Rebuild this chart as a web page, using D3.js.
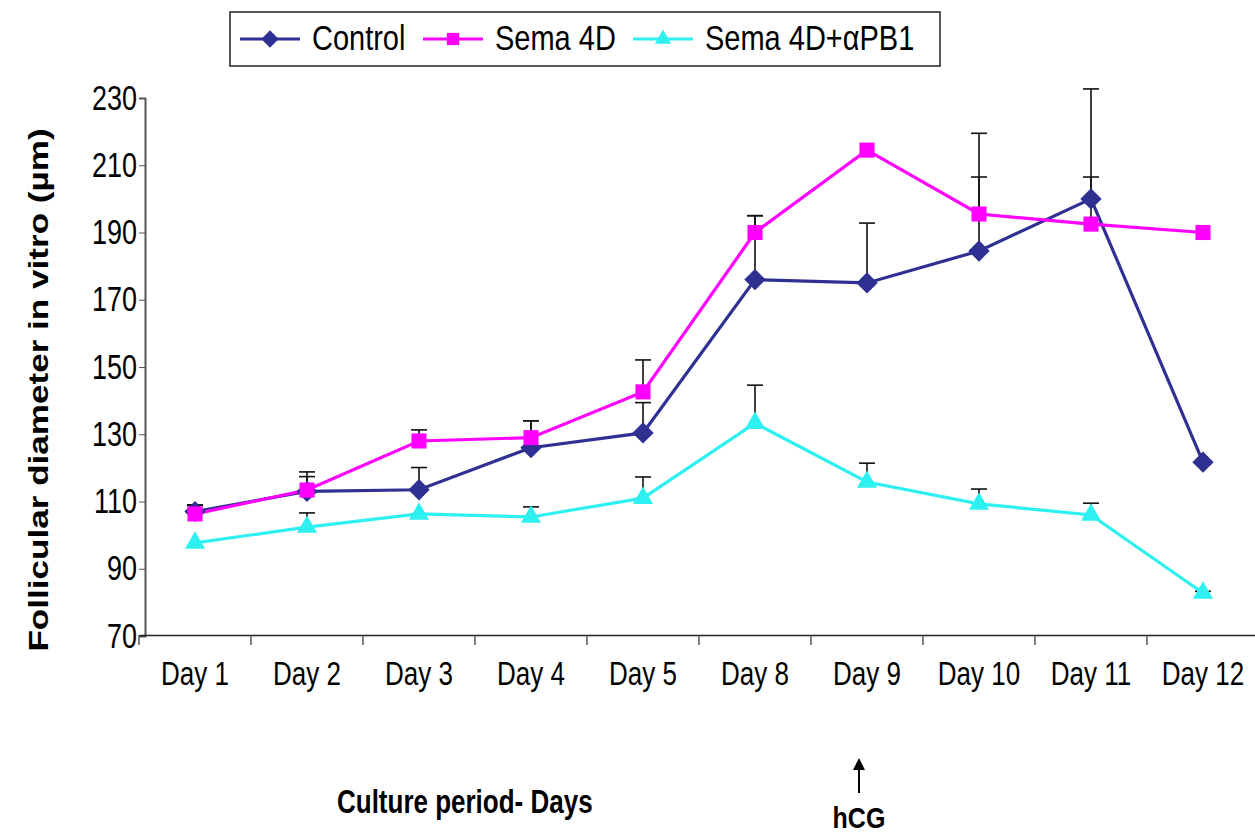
<!DOCTYPE html>
<html>
<head>
<meta charset="utf-8">
<script src="https://cdn.jsdelivr.net/npm/d3@7"></script>
<style>
  body { margin: 0; background: #fff; }
  text { font-family: "Liberation Sans", Arial, sans-serif; fill: #000; }
</style>
</head>
<body>
<div id="chart"></div>
<script>
const days = ["Day 1", "Day 2", "Day 3", "Day 4", "Day 5", "Day 8", "Day 9", "Day 10", "Day 11", "Day 12"];
const control    = [107, 113, 113.5, 126, 130.4, 176, 175, 184.5, 200, 121.7];
const controlErr = [2, 5.8, 6.6, 8, 9, 19, 17.8, 35, 32.7, 0];
const sema       = [106.3, 113.4, 128, 129, 142.6, 190, 214.5, 195.5, 192.5, 190];
const semaErr    = [2.5, 4, 3.3, 5, 9.5, 5, 0, 11, 14, 0];
const apb        = [97.7, 102.4, 106.3, 105.4, 111, 133.3, 115.8, 109.3, 106, 82.8];
const apbErr     = [0, 4.2, 0, 3, 6.3, 11.3, 5.6, 4.4, 3.5, 0.5];
const yTicks = [70, 90, 110, 130, 150, 170, 190, 210, 230];

const width = 1255, height = 836;
const stretch = 1.3; // the source image is taller than wide, text looks stretched

const series = [
  { name: "Control", values: control, err: controlErr, color: "#2e3192", shape: d3.symbolDiamond2 },
  { name: "Sema 4D", values: sema, err: semaErr, color: "#ff00ff", shape: d3.symbolSquare2 },
  { name: "Sema 4D+\u03b1PB1", values: apb, err: apbErr, color: "#2ef0f0", shape: d3.symbolTriangle2 }
];

// scale a text vertically around its own anchor point
function tall(sel, k) {
  sel.each(function() {
    const t = d3.select(this);
    const ax = +t.attr("x") || 0, ay = +t.attr("y") || 0;
    t.attr("transform", "translate(" + ax + "," + ay + ") scale(1," + k + ") translate(" + (-ax) + "," + (-ay) + ")");
  });
}

const svg = d3.select("#chart").append("svg")
  .attr("width", width)
  .attr("height", height);

svg.append("rect").attr("width", width).attr("height", height).attr("fill", "#fff");

const x = d3.scaleBand().domain(days).range([139, 1259]);
const y = d3.scaleLinear().domain([70, 230]).range([636, 98]);
const cx = d => x(d) + x.bandwidth() / 2;

// y axis
const yAxis = svg.append("g")
  .attr("transform", "translate(145,0)")
  .call(d3.axisLeft(y).tickValues(yTicks).tickSize(6).tickPadding(2));
yAxis.select(".domain").attr("stroke", "#555").attr("stroke-width", 2);
yAxis.selectAll(".tick line").attr("stroke", "#555");
yAxis.selectAll(".tick text").attr("font-size", 27).style("font-family", "Liberation Sans, Arial, sans-serif")
  .call(tall, stretch);

// x axis: labels centred in bands, ticks on band edges
const xAxis = svg.append("g")
  .attr("transform", "translate(0,635)")
  .call(d3.axisBottom(x).tickSize(0).tickPadding(26).tickSizeOuter(0));
xAxis.select(".domain").attr("stroke", "#222").attr("stroke-width", 1.5);
xAxis.selectAll(".tick text").attr("font-size", 26).style("font-family", "Liberation Sans, Arial, sans-serif")
  .call(tall, stretch);
xAxis.selectAll(".edge")
  .data(days)
  .join("line")
  .attr("class", "edge")
  .attr("x1", d => x(d)).attr("x2", d => x(d))
  .attr("y1", 0).attr("y2", 10)
  .attr("stroke", "#555").attr("stroke-width", 1.5);

// error bars (upper only)
const errG = svg.append("g");
series.forEach(s => {
  const pts = days.map((d, i) => ({ d, v: s.values[i], e: s.err[i] })).filter(p => p.e > 0);
  errG.selectAll(null).data(pts).join("line")
    .attr("x1", p => cx(p.d)).attr("x2", p => cx(p.d))
    .attr("y1", p => y(p.v)).attr("y2", p => y(p.v + p.e))
    .attr("stroke", "#111").attr("stroke-width", 1.6);
  errG.selectAll(null).data(pts).join("line")
    .attr("x1", p => cx(p.d) - 8).attr("x2", p => cx(p.d) + 8)
    .attr("y1", p => y(p.v + p.e)).attr("y2", p => y(p.v + p.e))
    .attr("stroke", "#111").attr("stroke-width", 1.6);
});

// lines and markers
const line = d3.line().x((v, i) => cx(days[i])).y(v => y(v));
series.forEach(s => {
  svg.append("path")
    .datum(s.values)
    .attr("d", line)
    .attr("fill", "none")
    .attr("stroke", s.color)
    .attr("stroke-width", 3.2);
});
series.forEach(s => {
  svg.append("g").selectAll("path")
    .data(s.values)
    .join("path")
    .attr("transform", (v, i) => "translate(" + cx(days[i]) + "," + y(v) + ")")
    .attr("d", d3.symbol(s.shape, 290))
    .attr("fill", s.color);
});

// legend
const legend = svg.append("g");
legend.append("rect")
  .attr("x", 230).attr("y", 12).attr("width", 710).attr("height", 54)
  .attr("fill", "#fff").attr("stroke", "#222").attr("stroke-width", 1.5);
const legendX = [240, 423, 633];
series.forEach((s, i) => {
  const g = legend.append("g").attr("transform", "translate(" + legendX[i] + ",39)");
  g.append("line").attr("x1", 0).attr("x2", 60).attr("stroke", s.color).attr("stroke-width", 3);
  g.append("path").attr("transform", "translate(30,0)").attr("d", d3.symbol(s.shape, 190)).attr("fill", s.color);
  g.append("text").attr("x", 72).attr("y", 11).attr("font-size", 29).text(s.name)
    .call(tall, 1.2);
});

// axis titles
svg.append("text")
  .attr("transform", "translate(48,390) scale(1," + stretch + ") rotate(-90)")
  .attr("text-anchor", "middle")
  .attr("font-size", 27).attr("font-weight", "bold")
  .text("Follicular diameter in vitro (\u00b5m)");

svg.append("text")
  .attr("x", 337).attr("y", 813)
  .attr("font-size", 26).attr("font-weight", "bold")
  .text("Culture period- Days")
  .call(tall, stretch);

// hCG marker under Day 9
const hx = cx("Day 9") - 8;
svg.append("defs").append("marker")
  .attr("id", "arrow").attr("viewBox", "0 0 10 10")
  .attr("refX", 5).attr("refY", 5)
  .attr("markerWidth", 6).attr("markerHeight", 6)
  .attr("orient", "auto")
  .append("path").attr("d", "M0,0L10,5L0,10z").attr("fill", "#000");
svg.append("line")
  .attr("x1", hx).attr("x2", hx).attr("y1", 793).attr("y2", 764)
  .attr("stroke", "#000").attr("stroke-width", 2)
  .attr("marker-end", "url(#arrow)");
svg.append("text")
  .attr("x", hx).attr("y", 828)
  .attr("text-anchor", "middle")
  .attr("font-size", 25).attr("font-weight", "bold")
  .text("hCG")
  .call(tall, 1.2);
</script>
</body>
</html>
